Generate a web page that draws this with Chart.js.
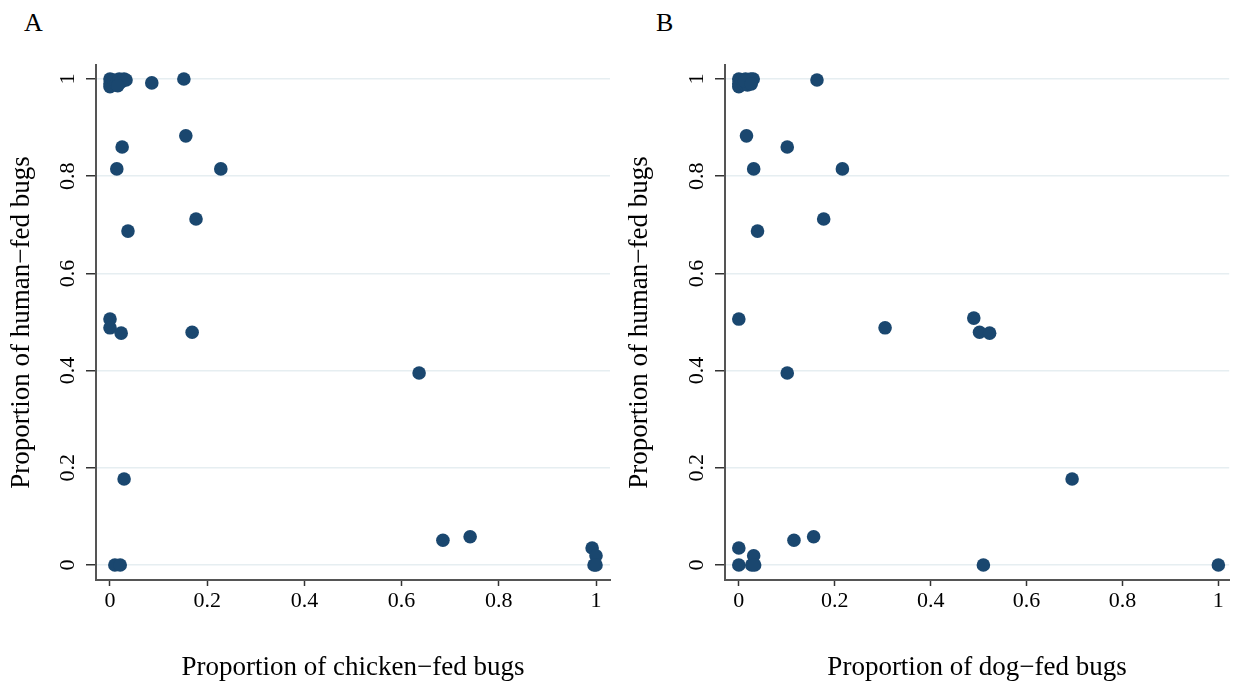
<!DOCTYPE html>
<html>
<head>
<meta charset="utf-8">
<script src="https://cdn.jsdelivr.net/npm/chart.js@4/dist/chart.umd.min.js"></script>
<style>
  body { margin: 0; background: #fff; width: 1236px; height: 684px; position: relative; overflow: hidden; }
  canvas { position: absolute; top: 0; }
  #cA { left: 0; }
  #cB { left: 618px; }
  .lbl { position: absolute; top: 8px; font-family: "Liberation Serif", serif; font-size: 26px; color: #000; }
</style>
</head>
<body>
<div class="lbl" style="left:24px">A</div>
<div class="lbl" style="left:656px">B</div>
<canvas id="cA" width="618" height="684"></canvas>
<canvas id="cB" width="618" height="684"></canvas>
<script>
// tick values, shared by both panels
var axisTicks = [0, 0.2, 0.4, 0.6, 0.8, 1];
var tickLabels = ['0', '0.2', '0.4', '0.6', '0.8', '1'];

// panel A: chicken-fed vs human-fed
var chickenX = [0, 0, 0, 0.008, 0.012, 0.019, 0.023, 0.029, 0.033, 0.016,
  0.086, 0.152, 0.156, 0.025, 0.228, 0.014, 0.177, 0.037,
  0, 0, 0.023, 0.169, 0.636, 0.029, 0.685, 0.741,
  0.992, 1.0, 0.996, 1.0, 0.01, 0.021];
var humanA = [1, 0.99, 0.984, 0.998, 0.99, 1, 0.994, 1, 0.998, 0.986,
  0.992, 1.0, 0.883, 0.86, 0.815, 0.815, 0.712, 0.687,
  0.506, 0.488, 0.477, 0.479, 0.395, 0.177, 0.051, 0.058,
  0.035, 0.019, 0, 0, 0, 0];

// panel B: dog-fed vs human-fed
var dogX = [0, 0, 0, 0.006, 0.01, 0.014, 0.02, 0.025, 0.03, 0.018, 0.012, 0.026,
  0.163, 0.016, 0.101, 0.031, 0.216, 0.177, 0.039,
  0, 0.305, 0.49, 0.502, 0.523, 0.101, 0.695,
  0, 0, 0.027, 0.031, 0.033, 0.115, 0.156, 0.51, 1.0];
var humanB = [1, 0.99, 0.984, 0.998, 0.99, 1, 0.994, 1, 1, 0.988, 0.996, 0.99,
  0.998, 0.883, 0.86, 0.815, 0.815, 0.712, 0.687,
  0.506, 0.488, 0.508, 0.479, 0.477, 0.395, 0.177,
  0.035, 0, 0, 0.019, 0, 0.051, 0.058, 0, 0];

var serif = '"Liberation Serif", "Times New Roman", serif';
var navy = '#1a476f';

function toPts(xs, ys) {
  var out = [];
  for (var i = 0; i < xs.length; i++) out.push({ x: xs[i], y: ys[i] });
  return out;
}

// y tick labels are rotated in the original, so draw them by hand
var rotatedY = {
  id: 'rotatedY',
  afterDraw: function (chart) {
    var ctx = chart.ctx;
    var ys = chart.scales.y;
    ctx.save();
    ctx.font = '22px ' + serif;
    ctx.fillStyle = '#000';
    ctx.textAlign = 'center';
    ctx.textBaseline = 'middle';
    axisTicks.forEach(function (v, i) {
      ctx.save();
      ctx.translate(ys.right - 28, ys.getPixelForValue(v));
      ctx.rotate(-Math.PI / 2);
      ctx.fillText(tickLabels[i], 0, 0);
      ctx.restore();
    });
    ctx.restore();
  }
};

function makeChart(id, pts, xTitle, yWidth, padRight, xMax) {
  return new Chart(document.getElementById(id), {
    type: 'scatter',
    data: {
      datasets: [{
        data: pts,
        backgroundColor: navy,
        borderWidth: 0,
        pointRadius: 6.8,
        pointHoverRadius: 6.8
      }]
    },
    options: {
      responsive: false,
      animation: false,
      layout: { padding: { top: 65, right: padRight, left: 0, bottom: 0 } },
      plugins: { legend: { display: false }, tooltip: { enabled: false } },
      scales: {
        x: {
          type: 'linear',
          min: -0.0288,
          max: xMax,
          afterBuildTicks: function (s) { s.ticks = axisTicks.map(function (v) { return { value: v }; }); },
          afterFit: function (s) { s.height = 104; },
          grid: { drawOnChartArea: false, tickLength: 6, tickColor: '#333', tickWidth: 1.5 },
          border: { color: '#555', width: 2 },
          ticks: {
            padding: 2,
            color: '#000',
            font: { family: serif, size: 22 },
            callback: function (v) { var i = axisTicks.indexOf(v); return i >= 0 ? tickLabels[i] : ''; }
          },
          title: { display: true, text: xTitle, color: '#000', font: { family: serif, size: 27 }, padding: { top: 0, bottom: 0 } }
        },
        y: {
          type: 'linear',
          min: -0.0309,
          max: 1.0288,
          afterBuildTicks: function (s) { s.ticks = axisTicks.map(function (v) { return { value: v }; }); },
          afterFit: function (s) { s.width = yWidth; },
          grid: { color: '#e6eef1', lineWidth: 1.5, tickLength: 10, tickColor: '#333', tickWidth: 1.5 },
          border: { color: '#555', width: 2 },
          ticks: { display: false },
          title: { display: true, text: 'Proportion of human\u2212fed bugs', color: '#000', font: { family: serif, size: 27 }, padding: { top: 6, bottom: 0 } }
        }
      }
    },
    plugins: [rotatedY]
  });
}

makeChart('cA', toPts(chickenX, humanA), 'Proportion of chicken\u2212fed bugs', 96, 8, 1.0288);
makeChart('cB', toPts(dogX, humanB), 'Proportion of dog\u2212fed bugs', 107, 0, 1.0226);
</script>
</body>
</html>
